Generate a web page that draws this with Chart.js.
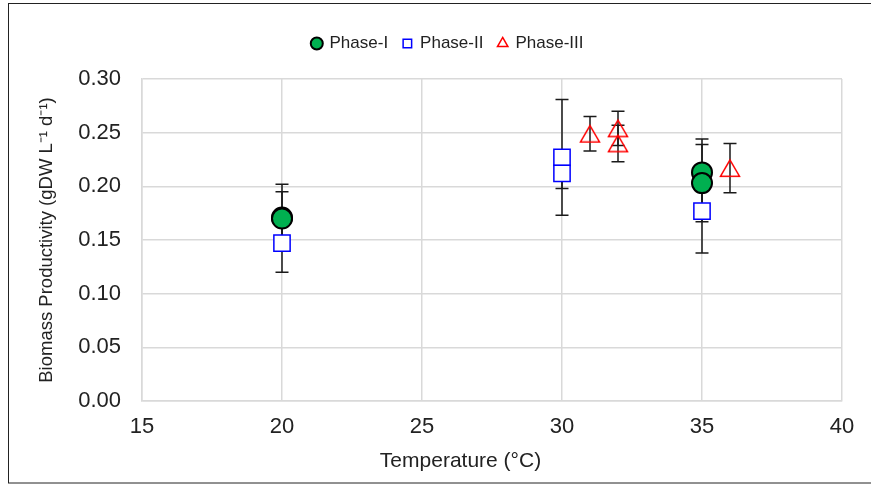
<!DOCTYPE html>
<html>
<head>
<meta charset="utf-8">
<script src="https://cdn.jsdelivr.net/npm/chart.js@4.4.1/dist/chart.umd.min.js"></script>
<style>
  body { margin: 0; background: #fff; }
  canvas { display: block; }
</style>
</head>
<body>
<canvas id="chart" width="871" height="487"></canvas>
<script>
// values: temperature, productivity, +/- error
const phase1X = [20, 20, 35, 35];
const phase1Y = [0.171, 0.170, 0.213, 0.203];
const phase1Err = [0.031, 0.025, 0.031, 0.036];

const phase2X = [20, 30, 30, 35];
const phase2Y = [0.147, 0.227, 0.212, 0.177];
const phase2Err = [0.027, 0.054, 0.014, 0.039];

const phase3X = [31, 32, 32, 36];
const phase3Y = [0.249, 0.254, 0.240, 0.217];
const phase3Err = [0.016, 0.016, 0.017, 0.023];

const xTickValues = [15, 20, 25, 30, 35, 40];
const yTickValues = [0, 0.05, 0.10, 0.15, 0.20, 0.25, 0.30];

const FONT = "'Liberation Sans', Arial, sans-serif";
const TEXT = '#222';
const GRID = '#d9d9d9';

function points(xs, ys) {
    return xs.map((x, i) => ({ x: x, y: ys[i] }));
}

// open triangle, centred on its bounding box like the spreadsheet markers
function triangleMarker() {
    const c = document.createElement('canvas');
    c.width = 24;
    c.height = 24;
    const g = c.getContext('2d');
    g.strokeStyle = '#ff0000';
    g.lineWidth = 1.5;
    g.beginPath();
    g.moveTo(12, 3.8);
    g.lineTo(21.5, 20.2);
    g.lineTo(2.5, 20.2);
    g.closePath();
    g.stroke();
    return c;
}

const errorBars = {
    id: 'errorBars',
    beforeDatasetsDraw(chart) {
        const { ctx, scales: { x, y } } = chart;
        ctx.save();
        ctx.strokeStyle = '#1a1a1a';
        ctx.lineWidth = 1.5;
        chart.data.datasets.forEach(ds => {
            ds.data.forEach((p, i) => {
                const px = x.getPixelForValue(p.x);
                const top = y.getPixelForValue(p.y + ds.errors[i]);
                const bot = y.getPixelForValue(p.y - ds.errors[i]);
                ctx.beginPath();
                ctx.moveTo(px, top);
                ctx.lineTo(px, bot);
                ctx.moveTo(px - 6.5, top);
                ctx.lineTo(px + 6.5, top);
                ctx.moveTo(px - 6.5, bot);
                ctx.lineTo(px + 6.5, bot);
                ctx.stroke();
            });
        });
        ctx.restore();
    }
};

const legendSpace = {
    id: 'legendSpace',
    beforeInit(chart) {
        const fit = chart.legend.fit;
        chart.legend.fit = function () {
            fit.bind(chart.legend)();
            this.height += 17;
        };
    },
    afterLayout(chart) {
        chart.legend.left += 27;
        chart.legend.right += 27;
    }
};

const frame = {
    id: 'frame',
    afterDraw(chart) {
        const ctx = chart.ctx;
        ctx.save();
        ctx.strokeStyle = '#222';
        ctx.lineWidth = 1;
        ctx.strokeRect(8.5, 3.5, 880, 479.5);
        ctx.restore();
    }
};

new Chart(document.getElementById('chart').getContext('2d'), {
    type: 'scatter',
    data: {
        datasets: [
            {
                label: 'Phase-I',
                data: points(phase1X, phase1Y),
                errors: phase1Err,
                pointStyle: 'circle',
                pointRadius: 10,
                backgroundColor: '#00b050',
                borderColor: '#000',
                borderWidth: 2
            },
            {
                label: 'Phase-II',
                data: points(phase2X, phase2Y),
                errors: phase2Err,
                pointStyle: 'rect',
                pointRadius: 11.5,
                backgroundColor: '#fff',
                borderColor: '#0000ff',
                borderWidth: 1.5
            },
            {
                label: 'Phase-III',
                data: points(phase3X, phase3Y),
                errors: phase3Err,
                pointStyle: triangleMarker(),
                pointRadius: 11,
                backgroundColor: 'rgba(0,0,0,0)',
                borderColor: '#ff0000',
                borderWidth: 1.5
            }
        ]
    },
    options: {
        responsive: false,
        animation: false,
        layout: { padding: { top: 20, right: 29, left: 0, bottom: 0 } },
        plugins: {
            tooltip: { enabled: false },
            legend: {
                position: 'top',
                labels: {
                    usePointStyle: true,
                    boxWidth: 8.5,
                    boxHeight: 8.5,
                    padding: 15,
                    color: TEXT,
                    font: { family: FONT, size: 17 },
                    generateLabels(chart) {
                        const items = Chart.defaults.plugins.legend.labels.generateLabels(chart);
                        items[2].pointStyle = 'triangle';
                        items[2].fillStyle = 'rgba(0,0,0,0)';
                        items[2].strokeStyle = '#ff0000';
                        items[2].lineWidth = 1.5;
                        return items;
                    }
                }
            }
        },
        scales: {
            x: {
                type: 'linear',
                min: xTickValues[0],
                max: xTickValues[xTickValues.length - 1],
                afterBuildTicks: s => { s.ticks = xTickValues.map(v => ({ value: v })); },
                afterFit: s => { s.height = 86; },
                grid: { color: GRID, lineWidth: 1.5, drawTicks: false },
                border: { color: GRID, width: 1.5 },
                ticks: { color: TEXT, padding: 13, font: { family: FONT, size: 22 } },
                title: {
                    display: true,
                    // trailing em spaces pull the centred title left, as in the original
                    text: 'Temperature (°C)\u2003\u2003\u2003',
                    color: TEXT,
                    padding: { top: 0, bottom: 13 },
                    font: { family: FONT, size: 21 }
                }
            },
            y: {
                type: 'linear',
                min: yTickValues[0],
                max: yTickValues[yTickValues.length - 1],
                afterBuildTicks: s => { s.ticks = yTickValues.map(v => ({ value: v })); },
                afterFit: s => { s.width = 142; },
                grid: { color: GRID, lineWidth: 1.5, drawTicks: false },
                border: { color: GRID, width: 1.5 },
                ticks: {
                    color: TEXT,
                    padding: 21,
                    font: { family: FONT, size: 22 },
                    callback: v => v.toFixed(2)
                },
                title: {
                    display: true,
                    text: 'Biomass Productivity (gDW L\u207B\u00B9 d\u207B\u00B9)',
                    color: TEXT,
                    padding: { top: 36, bottom: 0 },
                    font: { family: FONT, size: 18.5 }
                }
            }
        }
    },
    plugins: [errorBars, legendSpace, frame]
});
</script>
</body>
</html>
